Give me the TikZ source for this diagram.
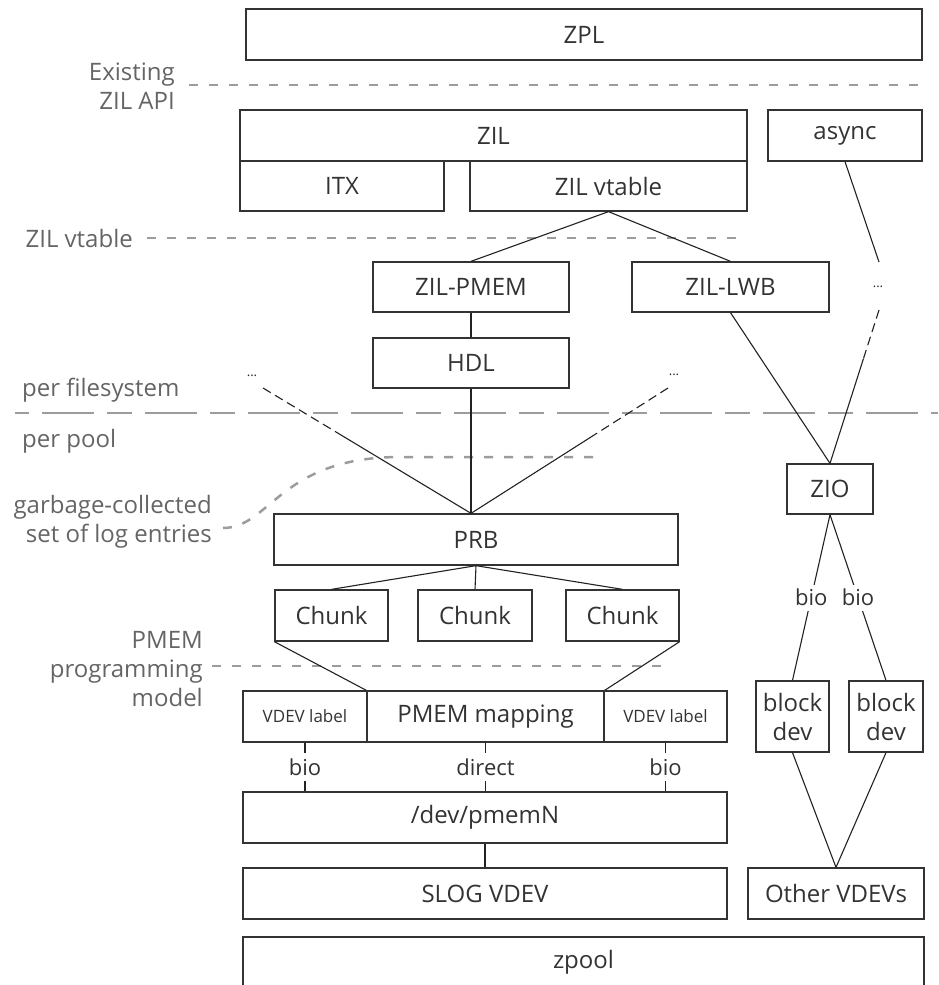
\documentclass[tikz,border=0pt]{standalone}
\usepackage{fontspec}
\setmainfont{Open Sans}
\usetikzlibrary{calc}
\definecolor{ink}{HTML}{333333}
\definecolor{wire}{HTML}{222222}
\definecolor{note}{HTML}{656565}
\definecolor{rulec}{HTML}{9C9C9C}
\begin{document}
\begin{tikzpicture}[x=1pt,y=-1pt,
  box/.style={draw=ink, line width=1.3pt, text=ink, inner sep=0pt, align=center,
    font=\fontsize{24}{29}\selectfont},
  small/.style={font=\fontsize{17}{20}\selectfont},
  link/.style={draw=wire, line width=1.1pt},
  fade/.style={link, dash pattern=on 9pt off 5pt},
  sep/.style={draw=rulec, line width=2.5pt, dash pattern=on 9pt off 11pt},
  longsep/.style={draw=rulec, line width=2.5pt,
    dash pattern=on 52pt off 13pt on 25pt off 13pt, dash phase=76pt},
  note/.style={text=note, inner sep=0pt, font=\fontsize{24}{29}\selectfont},
  lbl/.style={fill=white, text=ink, inner sep=0pt, minimum height=28pt,
    font=\fontsize{22}{24}\selectfont},
  dots/.style={text=wire, inner sep=0pt, font=\fontsize{13}{13}\selectfont}]

\useasboundingbox (0,0) rectangle (938,985);

% --- layer boxes ---
\node[box, minimum width=676pt, minimum height=51pt] (zpl)   at (584,34.5)   {ZPL};
\node[box, minimum width=507pt, minimum height=51pt] (zil)   at (493.5,135.5) {ZIL};
\node[box, minimum width=204pt, minimum height=50pt] (itx)   at (342,186)    {ITX};
\node[box, minimum width=277pt, minimum height=50pt] (zvt)   at (608.5,186)  {ZIL vtable};
\node[box, minimum width=154pt, minimum height=51pt] (async) at (845,135.5)  {async};
\node[box, minimum width=196pt, minimum height=50pt] (zpm)   at (471,287)    {ZIL-PMEM};
\node[box, minimum width=197pt, minimum height=50pt] (lwb)   at (730.5,287)  {ZIL-LWB};
\node[box, minimum width=196pt, minimum height=50pt] (hdl)   at (471,363)    {HDL};
\node[box, minimum width=86pt,  minimum height=50pt] (zio)   at (830,489)    {ZIO};
\node[box, minimum width=404pt, minimum height=51pt] (prb)   at (476,539.5)  {PRB};
\node[box, minimum width=113pt, minimum height=51pt] (ch1)   at (331.5,615.5) {Chunk};
\node[box, minimum width=114pt, minimum height=51pt] (ch2)   at (475,615.5)  {Chunk};
\node[box, minimum width=113pt, minimum height=51pt] (ch3)   at (622.5,615.5) {Chunk};
\node[box, small, minimum width=124pt, minimum height=51pt] (vl) at (305,716.5) {VDEV label};
\node[box, minimum width=237pt, minimum height=51pt] (pmap)  at (485.5,716.5) {PMEM mapping};
\node[box, small, minimum width=123pt, minimum height=51pt] (vr) at (665.5,716.5) {VDEV label};
\node[box, minimum width=484pt, minimum height=51pt] (pmn)   at (485,817.5)  {/dev/pmemN};
\node[box, minimum width=484pt, minimum height=51pt] (slog)  at (485,893.5)  {SLOG VDEV};
\node[box, minimum width=73pt,  minimum height=71pt] (bd1)   at (792.5,716.5) {block\\dev};
\node[box, minimum width=74pt,  minimum height=71pt] (bd2)   at (886,716.5)  {block\\dev};
\node[box, minimum width=176pt, minimum height=51pt] (other) at (836,893.5)  {Other VDEVs};

% zpool runs off the bottom edge
\node[text=ink, inner sep=0pt, font=\fontsize{24}{29}\selectfont] (zpool) at (583.5,962) {zpool};
\draw[draw=ink, line width=1.3pt] (243,987) |- (924,937) -- (924,987);

% --- separators and side notes ---
\draw[sep] (189,85) -- (925,85);
\node[note, anchor=east, align=right] (napi) at (175,86) {Existing\\ZIL API};

\draw[sep] (147,238) -- (747,238);
\node[note, anchor=east] (nvt) at (133,238) {ZIL vtable};

\draw[longsep] (15,413) -- (938,413);
\node[note, anchor=west] (nfs) at (22,390) {per filesystem};
\node[note, anchor=west] (npool) at (22,441) {per pool};

\draw[sep] (223,528) .. controls (270,528) and (280,457) .. (400,457) -- (602,457);
\node[note, anchor=east, align=right] (ngc) at (212,522) {garbage-collected\\set of log entries};

\draw[sep] (212,666) -- (667,666);
\node[note, anchor=east, align=right] (npm) at (203,669) {PMEM\\programming\\model};

% --- connectors ---
\draw[link] (zvt.south) -- (zpm.north);
\draw[link] (zvt.south) -- (lwb.north);
\draw[link] (zpm.south) -- (hdl.north);
\coordinate (hub) at (hdl.south |- prb.north);
\draw[link] (hdl.south) -- (hub);
\draw[link] (lwb.south) -- (zio.north);

% other filesystems feeding the same PRB
\node[dots] (dl) at (252,376) {...};
\node[dots] (dr) at (674,375) {...};
\coordinate (dlEnd) at (263,388);
\coordinate (drEnd) at (668,388);
\draw[fade] (dlEnd) -- ($(dlEnd)!0.36!(hub)$) coordinate (dlMid);
\draw[link] (dlMid) -- (hub);
\draw[fade] (drEnd) -- ($(drEnd)!0.37!(hub)$) coordinate (drMid);
\draw[link] (drMid) -- (hub);

% async path down to ZIO
\node[dots] (da) at (878,287) {...};
\coordinate (daTop) at (879,262);
\coordinate (daBot) at (879,310);
\draw[link] (async.south) -- (daTop);
\draw[fade] (daBot) -- ($(daBot)!0.32!(zio.north)$) coordinate (daMid);
\draw[link] (daMid) -- (zio.north);

% PRB to chunks
\draw[link] (prb.south) -- (ch1.north);
\draw[link] (prb.south) -- (ch2.north);
\draw[link] (prb.south) -- (ch3.north);

% chunks fan into the PMEM mapping
\draw[link] (ch1.south west) -- (pmap.north west);
\draw[link] (ch3.south east) -- (pmap.north east);

% access paths to /dev/pmemN
\draw[link] (vl.south) -- (vl.south |- pmn.north) node[lbl, midway] {bio};
\draw[link] (pmap.south) -- (pmap.south |- pmn.north) node[lbl, midway] {direct};
\draw[link] (vr.south) -- (vr.south |- pmn.north) node[lbl, midway] {bio};
\draw[link] (pmn.south) -- (slog.north);

% ZIO to block devices
\draw[link] (zio.south) -- (bd1.north) node[lbl, midway, minimum height=26pt] {bio};
\draw[link] (zio.south) -- (bd2.north) node[lbl, midway, minimum height=26pt] {bio};
\draw[link] (bd1.south) -- (other.north);
\draw[link] (bd2.south) -- (other.north);

\end{tikzpicture}
\end{document}
